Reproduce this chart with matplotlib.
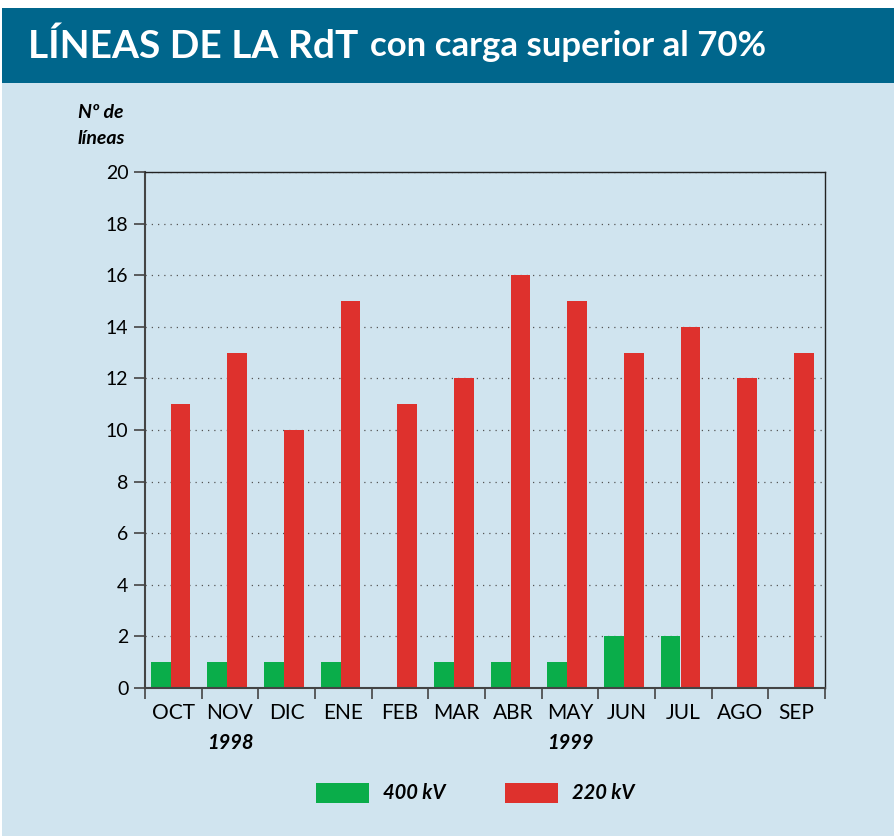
import numpy as np
import matplotlib.pyplot as plt
from matplotlib.patches import Rectangle

# --- Datos ---
meses = ['OCT', 'NOV', 'DIC', 'ENE', 'FEB', 'MAR', 'ABR', 'MAY', 'JUN', 'JUL', 'AGO', 'SEP']
lineas_400 = [1, 1, 1, 1, 0, 1, 1, 1, 2, 2, 0, 0]
lineas_220 = [11, 13, 10, 15, 11, 12, 16, 15, 13, 14, 12, 13]
anios = ['1998', '1999']
anio_pos = [1, 7]   # mes bajo el que va cada año
series = ['400 kV', '220 kV']

# --- Estilo ---
W, H = 894, 836
fondo = '#D0E4EF'
azul = '#00668C'
verde = '#0AAD4A'
rojo = '#DE312D'
fuente = 'Lato'

fig = plt.figure(figsize=(W / 100, H / 100), dpi=100)
fig.patch.set_facecolor('white')

def px(x0, y0, x1, y1):
    # rect en pixeles (origen arriba-izquierda) -> coords de figura
    return [x0 / W, 1 - y1 / H, (x1 - x0) / W, (y1 - y0) / H]

# fondo claro y banda del título
fig.patches.append(Rectangle((2 / W, 0), 1, 1 - 83 / H, transform=fig.transFigure,
                             facecolor=fondo, edgecolor='none', zorder=-2))
fig.patches.append(Rectangle((2 / W, 1 - 83 / H), 1, 75 / H, transform=fig.transFigure,
                             facecolor=azul, edgecolor='none', zorder=-2))
t1 = fig.text(28 / W, 1 - 46 / H, 'LÍNEAS DE LA RdT', color='white', fontsize=28,
              fontweight='bold', family=fuente, va='center', ha='left')
fig.canvas.draw()
bb = t1.get_window_extent()
fig.text((bb.x1 + 12) / W, 1 - 46 / H, 'con carga superior al 70%', color='white',
         fontsize=25, fontweight='bold', family=fuente, va='center', ha='left')

# --- Ejes ---
ax = fig.add_axes(px(145, 172, 825, 688))
ax.set_facecolor(fondo)
x = np.arange(len(meses))
bw = 0.35
ax.bar(x - bw / 2 - 0.05, lineas_400, width=bw, color=verde, zorder=2)
ax.bar(x + bw / 2 - 0.05, lineas_220, width=bw, color=rojo, zorder=2)

ax.set_xlim(-0.5, len(meses) - 0.5)
ax.set_ylim(0, 20)
ax.set_yticks(range(0, 21, 2))
ax.set_xticks(np.arange(-0.5, len(meses)), minor=False)
ax.set_xticklabels([])
ax.set_xticks(x, minor=True)
ax.set_xticklabels(meses, minor=True, fontsize=15, family=fuente)
ax.tick_params(axis='x', which='minor', length=0, pad=11)
ax.tick_params(axis='x', which='major', length=8, width=1.2, color='#444444', direction='out')
ax.tick_params(axis='y', length=8, width=1.2, color='#444444', direction='out', labelsize=14, pad=4)
for lbl in ax.get_yticklabels():
    lbl.set_family(fuente)
ax.grid(axis='y', linestyle=(0, (1, 4)), color='#555555', linewidth=0.9, zorder=1)
for s in ['left', 'bottom']:
    ax.spines[s].set_color('#444444')
    ax.spines[s].set_linewidth(1.5)
for s in ['top', 'right']:
    ax.spines[s].set_color('#222222')
    ax.spines[s].set_linewidth(1.0)

# años
for a, p in zip(anios, anio_pos):
    ax.text(p, -2.15, a, ha='center', va='center', fontsize=14.5, fontweight='bold',
            fontstyle='italic', family=fuente)

# título eje y
fig.text(78 / W, 1 - 113 / H, 'Nº de', fontsize=14, fontweight='bold', fontstyle='italic',
         family=fuente, va='center', ha='left')
fig.text(78 / W, 1 - 139 / H, 'líneas', fontsize=14, fontweight='bold', fontstyle='italic',
         family=fuente, va='center', ha='left')

# leyenda
for (x0, col, txt) in [(316, verde, series[0]), (505, rojo, series[1])]:
    fig.patches.append(Rectangle((x0 / W, 1 - 803 / H), 53 / W, 20 / H,
                                 transform=fig.transFigure, facecolor=col, edgecolor='none'))
    fig.text((x0 + 67) / W, 1 - 793 / H, txt, fontsize=14.5, fontweight='bold',
             fontstyle='italic', family=fuente, va='center', ha='left')

fig.savefig('out.png', dpi=100)
